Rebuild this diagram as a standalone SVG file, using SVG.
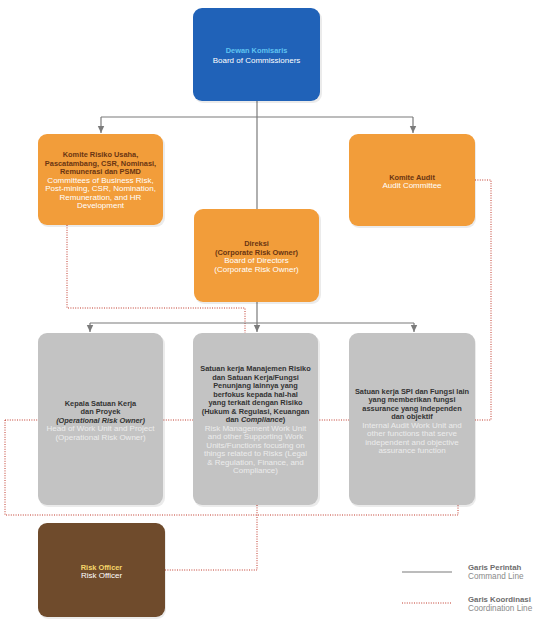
<svg xmlns="http://www.w3.org/2000/svg" width="547" height="626" viewBox="0 0 547 626">
<defs>
<style>
text{font-family:"Liberation Sans",Arial,sans-serif;font-size:8px;text-anchor:middle}
.b{font-weight:bold;font-size:7.4px}
.i{font-style:italic}
.cmd{fill:none;stroke:#7b7b7b;stroke-width:1.2}
.co{fill:none;stroke:#c0392b;stroke-width:1;stroke-dasharray:1 1.4}
.blue{fill:#2062b8}
.org{fill:#f29d3a}
.gry{fill:#c3c3c3}
.brn{fill:#6f4b2c}
.sh{fill:#000;opacity:0.08}
.dk{fill:#6a3512}
.wh{fill:#ffffff}
.gt{fill:#333333}
.lg{fill:#ececec}
.leg1{fill:#6d6d6d;text-anchor:start;font-weight:bold;font-size:7.8px}
.leg2{fill:#8a8a8a;text-anchor:start;font-size:8.2px}
</style>
<marker id="ar" markerWidth="8" markerHeight="8" refX="7" refY="4" orient="auto" markerUnits="userSpaceOnUse">
<path d="M0,0.8 L7,4 L0,7.2 Z" fill="#7b7b7b"/>
</marker>
</defs>

<g id="connectors">
<path class="co" d="M5,420 H349"/>
<path class="co" d="M5,420 V515 H458 V505"/>
<path class="co" d="M165,570 H257 V505"/>
<path class="co" d="M67,225 V308 H245 V333"/>
<path class="co" d="M475,180 H491 V420 H475"/>
<path class="cmd" d="M257,101 V209"/>
<path class="cmd" d="M101,117 H413"/>
<path class="cmd" d="M101,117 V133" marker-end="url(#ar)"/>
<path class="cmd" d="M413,117 V133" marker-end="url(#ar)"/>
<path class="cmd" d="M257,302 V332" marker-end="url(#ar)"/>
<path class="cmd" d="M90,323 H414"/>
<path class="cmd" d="M90,323 V332" marker-end="url(#ar)"/>
<path class="cmd" d="M414,323 V332" marker-end="url(#ar)"/>
</g>

<g id="board">
<rect class="sh" x="194" y="10" width="128" height="93" rx="9"/>
<rect class="blue" x="193" y="8" width="127" height="93" rx="9"/>
<text class="b" x="256.5" y="53" fill="#5fc3f2">Dewan Komisaris</text>
<text class="wh" x="256.5" y="63">Board of Commissioners</text>
</g>

<g id="committees">
<rect class="sh" x="39" y="136" width="126" height="91" rx="9"/>
<rect class="org" x="38" y="134" width="125" height="91" rx="9"/>
<text class="b dk" x="100.5" y="157">Komite Risiko Usaha,</text>
<text class="b dk" x="100.5" y="165.5">Pascatambang, CSR, Nominasi,</text>
<text class="b dk" x="100.5" y="174">Remunerasi dan PSMD</text>
<text class="wh" x="100.5" y="182.5">Committees of Business Risk,</text>
<text class="wh" x="100.5" y="191">Post-mining, CSR, Nomination,</text>
<text class="wh" x="100.5" y="199.5">Remuneration, and HR</text>
<text class="wh" x="100.5" y="208">Development</text>
</g>

<g id="audit">
<rect class="sh" x="350" y="136" width="126" height="92" rx="9"/>
<rect class="org" x="349" y="134" width="126" height="92" rx="9"/>
<text class="b dk" x="412" y="179.5">Komite Audit</text>
<text class="wh" x="412" y="188">Audit Committee</text>
</g>

<g id="direksi">
<rect class="sh" x="195" y="211" width="126" height="93" rx="9"/>
<rect class="org" x="194" y="209" width="125" height="93" rx="9"/>
<text class="b dk" x="256.5" y="246">Direksi</text>
<text class="b dk" x="256.5" y="254.5">(Corporate Risk Owner)</text>
<text class="wh" x="256.5" y="263">Board of Directors</text>
<text class="wh" x="256.5" y="271.5">(Corporate Risk Owner)</text>
</g>

<g id="operational">
<rect class="sh" x="39" y="335" width="126" height="172" rx="9"/>
<rect class="gry" x="38" y="333" width="125" height="172" rx="9"/>
<text class="b gt" x="100.5" y="405.5">Kepala Satuan Kerja</text>
<text class="b gt" x="100.5" y="414">dan Proyek</text>
<text class="b i gt" x="100.5" y="422.5">(Operational Risk Owner)</text>
<text class="lg" x="100.5" y="431">Head of Work Unit and Project</text>
<text class="lg" x="100.5" y="439.5">(Operational Risk Owner)</text>
</g>

<g id="riskmgmt">
<rect class="sh" x="194" y="335" width="126" height="172" rx="9"/>
<rect class="gry" x="193" y="333" width="125" height="172" rx="9"/>
<text class="b gt" x="255.5" y="371">Satuan kerja Manajemen Risiko</text>
<text class="b gt" x="255.5" y="379.5">dan Satuan Kerja/Fungsi</text>
<text class="b gt" x="255.5" y="388">Penunjang lainnya yang</text>
<text class="b gt" x="255.5" y="396.5">berfokus kepada hal-hal</text>
<text class="b gt" x="255.5" y="405">yang terkait dengan Risiko</text>
<text class="b gt" x="255.5" y="413.5">(Hukum &amp; Regulasi, Keuangan</text>
<text class="b gt" x="255.5" y="422">dan <tspan class="i">Compliance</tspan>)</text>
<text class="lg" x="255.5" y="430.5">Risk Management Work Unit</text>
<text class="lg" x="255.5" y="439">and other Supporting Work</text>
<text class="lg" x="255.5" y="447.5">Units/Functions focusing on</text>
<text class="lg" x="255.5" y="456">things related to Risks (Legal</text>
<text class="lg" x="255.5" y="464.5">&amp; Regulation, Finance, and</text>
<text class="lg" x="255.5" y="473">Compliance)</text>
</g>

<g id="internalaudit">
<rect class="sh" x="350" y="335" width="126" height="172" rx="9"/>
<rect class="gry" x="349" y="333" width="126" height="172" rx="9"/>
<text class="b gt" x="412" y="393.5">Satuan kerja SPI dan Fungsi lain</text>
<text class="b gt" x="412" y="402">yang memberikan fungsi</text>
<text class="b gt" x="412" y="410.5">assurance yang independen</text>
<text class="b gt" x="412" y="419">dan objektif</text>
<text class="lg" x="412" y="427.5">Internal Audit Work Unit and</text>
<text class="lg" x="412" y="436">other functions that serve</text>
<text class="lg" x="412" y="444.5">independent and objective</text>
<text class="lg" x="412" y="453">assurance function</text>
</g>

<g id="riskofficer">
<rect class="sh" x="39" y="525" width="127" height="94" rx="9"/>
<rect class="brn" x="38" y="523" width="127" height="94" rx="9"/>
<text class="b" x="101.5" y="569.5" fill="#f6d66a">Risk Officer</text>
<text class="wh" x="101.5" y="578">Risk Officer</text>
</g>

<g id="legend">
<path class="cmd" d="M402,572 H452"/>
<path class="co" d="M402,603 H452"/>
<text class="leg1" x="468" y="569.5">Garis Perintah</text>
<text class="leg2" x="468" y="579">Command Line</text>
<text class="leg1" x="468" y="601.5">Garis Koordinasi</text>
<text class="leg2" x="468" y="611">Coordination Line</text>
</g>
</svg>
